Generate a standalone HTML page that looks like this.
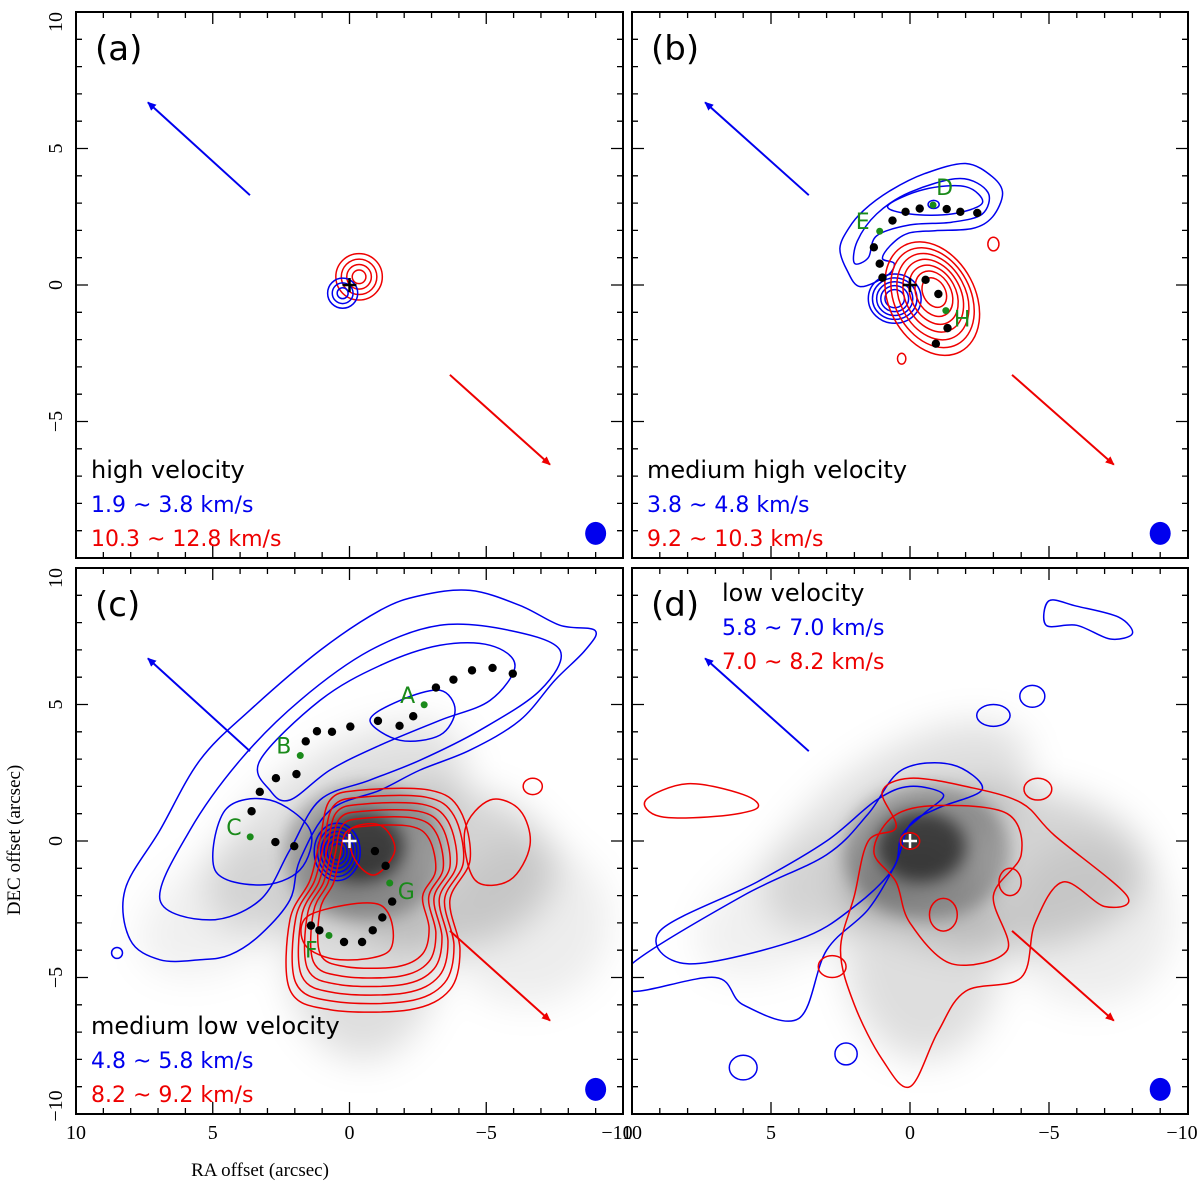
<!DOCTYPE html>
<html><head><meta charset="utf-8">
<style>
html,body{margin:0;padding:0;background:#fff;}
svg{display:block;font-family:"DejaVu Sans","Liberation Sans",sans-serif;}
</style></head>
<body>
<svg id="fig" width="1200" height="1193" viewBox="0 0 1200 1193" xmlns="http://www.w3.org/2000/svg">
<defs>
<filter id="blur1" x="-50%" y="-50%" width="200%" height="200%"><feGaussianBlur stdDeviation="18"/></filter>
<filter id="blur2" x="-50%" y="-50%" width="200%" height="200%"><feGaussianBlur stdDeviation="8"/></filter>
<clipPath id="clipA"><rect x="76" y="12" width="547" height="546"/></clipPath>
<clipPath id="clipB"><rect x="632" y="12" width="556" height="546"/></clipPath>
<clipPath id="clipC"><rect x="76" y="568" width="547" height="546"/></clipPath>
<clipPath id="clipD"><rect x="632" y="568" width="556" height="546"/></clipPath>
<marker id="arrB" markerWidth="10" markerHeight="10" refX="8" refY="5" orient="auto" markerUnits="userSpaceOnUse"><path d="M0,1 L9,5 L0,9 Z" fill="#0000ee"/></marker>
<marker id="arrR" markerWidth="10" markerHeight="10" refX="8" refY="5" orient="auto" markerUnits="userSpaceOnUse"><path d="M0,1 L9,5 L0,9 Z" fill="#ee0000"/></marker>
</defs>
<text x="260" y="1176" text-anchor="middle" font-family="Liberation Serif, serif" font-size="19">RA offset (arcsec)</text>
<text transform="translate(20,840) rotate(-90)" text-anchor="middle" font-family="Liberation Serif, serif" font-size="19">DEC offset (arcsec)</text>
</svg>
<script>
// ---------- data (arcsec) ----------
const panelNames=['a','b','c','d'];
const blueArrow=[[3.64,3.29],[7.37,6.69]];
const redArrow=[[-3.67,-3.29],[-7.33,-6.58]];
const knotsB_ra=[-2.42,-1.81,-1.32,-0.35,0.16,0.63,1.30,1.09,0.99,-0.56,-1.02,-1.35,-0.93];
const knotsB_dec=[2.64,2.68,2.78,2.80,2.68,2.36,1.38,0.78,0.27,0.19,-0.33,-1.58,-2.15];
const greenB_lab=['D','E','H'];
const greenB_ra=[-0.83,1.09,-1.29];
const greenB_dec=[2.93,1.97,-0.94];
const knotsC_ra=[-5.97,-5.23,-4.48,-3.80,-3.16,-2.33,-1.83,-1.04,-0.03,0.64,1.19,1.60,1.94,2.69,3.28,3.58,2.71,2.02,-0.93,-1.32,-1.56,-1.20,-0.85,-0.46,0.20,1.10,1.41];
const knotsC_dec=[6.13,6.34,6.25,5.91,5.62,4.57,4.22,4.40,4.19,4.00,4.02,3.65,2.45,2.30,1.80,1.09,-0.04,-0.19,-0.37,-0.91,-2.22,-2.80,-3.27,-3.70,-3.70,-3.27,-3.10];
const greenC_lab=['A','B','C','G','F'];
const greenC_ra=[-2.73,1.80,3.63,-1.47,0.75];
const greenC_dec=[4.99,3.13,0.15,-1.54,-3.46];

const cBlueOuter=[[8.02,-3.62],[8.21,-1.79],[6.93,0.40],[5.47,2.96],[3.64,4.79],[1.08,6.98],[-1.12,8.45],[-2.58,8.99],[-4.41,9.18],[-6.23,8.63],[-7.70,7.90],[-8.98,7.71],[-8.61,6.98],[-7.51,5.89],[-6.23,4.42],[-4.41,3.33],[-2.58,2.60],[-1.12,1.86],[0.71,1.13],[1.81,-0.69],[2.18,-2.16],[3.27,-3.44],[4.37,-4.17],[5.47,-4.35],[6.93,-4.35]];
const cBlue2=[[6.93,-2.16],[5.83,0.40],[4.0,2.96],[1.81,5.15],[-0.75,6.98],[-3.31,7.90],[-5.87,7.71],[-7.70,6.98],[-6.97,5.52],[-4.77,4.06],[-2.58,2.96],[-0.75,2.23],[1.08,1.50],[2.18,-0.33],[3.27,-2.16],[5.1,-2.89]];
const cBlue3=[[3.27,2.96],[1.08,5.15],[-1.12,6.43],[-3.31,7.17],[-5.14,7.17],[-6.05,6.43],[-5.14,5.15],[-3.31,4.42],[-1.12,3.51],[0.71,2.60],[2.18,1.50],[2.91,1.86]];
const cBlue3c=[[4.92,-1.06],[4.55,1.13],[2.91,1.50],[1.44,0.40],[1.81,-1.06],[3.27,-1.61]];
const cBlue4=[[-0.75,4.42],[-1.85,5.15],[-3.31,5.52],[-3.86,4.79],[-3.31,3.88],[-1.85,3.69]];
const cRedOuter=[[0.71,1.50],[-0.38,1.86],[-2.94,1.86],[-4.04,1.13],[-4.41,-0.69],[-3.67,-2.16],[-4.04,-3.99],[-3.67,-5.45],[-2.21,-6.18],[0.71,-6.18],[2.18,-5.45],[2.18,-2.89],[1.44,-1.43],[1.08,0.04]];
const cRedCore=[[-0.02,0.40],[-1.12,0.58],[-1.66,-0.33],[-0.93,-1.24],[-0.2,-0.69]];
const cRedF=[[1.44,-2.70],[-1.12,-2.34],[-1.48,-3.99],[0.35,-4.35],[1.63,-3.80]];
const cRedEast=[[-4.22,0.40],[-5.14,1.50],[-6.23,1.13],[-6.6,-0.15],[-5.87,-1.43],[-4.59,-1.43]];
const bBlueOuter=[[2.52,1.34],[2.21,2.07],[1.66,2.74],[0.69,3.47],[-0.53,4.08],[-2.0,4.45],[-2.97,3.96],[-3.33,3.35],[-2.97,2.50],[-2.24,2.07],[-0.90,1.99],[0.08,1.89],[0.69,1.46],[0.99,0.97],[0.57,0.79],[0.81,0.36],[1.79,-0.06],[2.27,0.55]];
const bBlue2=[[1.9,1.6],[1.2,2.6],[0,3.4],[-1.8,3.9],[-2.8,3.4],[-2.6,2.6],[-1.5,2.3],[0,2.2],[1.2,1.8],[1.5,1.0],[2.0,0.8]];
const bBlue3=[[0.8,2.9],[-0.5,3.5],[-2.0,3.6],[-2.6,3.0],[-1.5,2.6],[0,2.6]];
const dBlueOuter=[[10,-4.5],[6,-2.0],[3,-0.5],[1.5,1.0],[0.3,2.6],[-1.5,2.8],[-2.6,1.9],[-1.0,1.2],[0,0.6],[0.5,-0.8],[1.5,-2.5],[3,-4],[4,-6.5],[6,-6.0],[7,-5],[10,-5.5]];
const dBlue2=[[9,-3.3],[5.5,-1.5],[3,0],[1.2,1.5],[0,2.0],[-1.2,1.7],[-0.5,1.0],[0.3,0.2],[0.6,-1.0],[2,-2.4],[4,-3.6],[8,-4.5]];
const dBlueIsland=[[-5.0,8.8],[-6.0,8.6],[-7.5,8.2],[-8.0,7.6],[-7.2,7.4],[-6.0,7.9],[-4.9,7.9]];
const dRedOuter=[[0.5,0.5],[1,1.8],[0,2.3],[-2,2.0],[-4,1.4],[-5.2,0.2],[-7.8,-2.0],[-7.0,-2.4],[-5.5,-1.5],[-4.5,-3.0],[-4.0,-5.0],[-2,-5.5],[-1.0,-7.0],[0,-9.0],[1,-8],[2,-6],[2.5,-4.0],[2.0,-2.0],[1.5,0]];
const dRedInner=[[0.6,0.9],[-1,1.3],[-3.5,1.0],[-4,-0.5],[-3,-2],[-3.5,-4],[-1.5,-4.5],[0,-3],[0.5,-1.5],[1.3,-0.4]];
const dRedIsland=[[9.5,1.5],[8,2.1],[6,1.7],[5.5,1.2],[7,0.9],[9,0.9]];

const tickLabelsX=['10','5','0','\u22125','\u221210'];
const tickValsX=[10,5,0,-5,-10];
const titles=['(a)','(b)','(c)','(d)'];
const velTitle=['high velocity','medium high velocity','medium low velocity','low velocity'];
const velBlue=['1.9 ~ 3.8 km/s','3.8 ~ 4.8 km/s','4.8 ~ 5.8 km/s','5.8 ~ 7.0 km/s'];
const velRed=['10.3 ~ 12.8 km/s','9.2 ~ 10.3 km/s','8.2 ~ 9.2 km/s','7.0 ~ 8.2 km/s'];

const svg=document.getElementById('fig');
const NS='http://www.w3.org/2000/svg';
const geom=[{x0:76,y0:12,w:547,h:546},{x0:632,y0:12,w:556,h:546},{x0:76,y0:568,w:547,h:546},{x0:632,y0:568,w:556,h:546}];
const BLUE='#0000ee',RED='#ee0000',GREEN='#1a8a1a';
function mk(tag,attrs,parent){const e=document.createElementNS(NS,tag);for(const k in attrs)e.setAttribute(k,attrs[k]);(parent||svg).appendChild(e);return e;}
function smooth(pts){const n=pts.length;let d='M'+pts[0][0].toFixed(1)+','+pts[0][1].toFixed(1);
 for(let i=0;i<n;i++){const p0=pts[(i-1+n)%n],p1=pts[i],p2=pts[(i+1)%n],p3=pts[(i+2)%n];
  const c1=[p1[0]+(p2[0]-p0[0])/6,p1[1]+(p2[1]-p0[1])/6],c2=[p2[0]-(p3[0]-p1[0])/6,p2[1]-(p3[1]-p1[1])/6];
  d+=' C'+c1[0].toFixed(1)+','+c1[1].toFixed(1)+' '+c2[0].toFixed(1)+','+c2[1].toFixed(1)+' '+p2[0].toFixed(1)+','+p2[1].toFixed(1);}
 return d+'Z';}

geom.forEach((g,pi)=>{
 const X=ra=>g.x0+(10-ra)/20*g.w, Y=dec=>g.y0+(10-dec)/20*g.h;
 const sx=g.w/20, sy=g.h/20;
 const grp=mk('g',{'clip-path':'url(#clip'+'ABCD'[pi]+')'});
 
 
 function poly(arr,color,name,scale,cen){
  const c=cen||[0,0],s=scale||1;
  const pts=arr.map(p=>[X(c[0]+(p[0]-c[0])*s),Y(c[1]+(p[1]-c[1])*s)]);
  const e=mk('path',{d:smooth(pts),fill:'none',stroke:color,'stroke-width':1.5},grp);
  
  
 }
 function ell(ra,dec,rx,ry,color,name,rot){
  const e=mk('ellipse',{cx:X(ra),cy:Y(dec),rx:rx*sx,ry:ry*sy,fill:'none',stroke:color,'stroke-width':1.5,transform:'rotate('+(rot||0)+' '+X(ra)+' '+Y(dec)+')'},grp);
  
  
 }
 if(pi>=2){
  const gg=mk('g',{filter:'url(#blur1)'},grp);
  
  
  mk('ellipse',{cx:X(0.5),cy:Y(0.5),rx:5.5*sx,ry:2.6*sy,fill:'#000','fill-opacity':0.12,transform:'rotate(-35 '+X(0.5)+' '+Y(0.5)+')'},gg);
  mk('ellipse',{cx:X(-3),cy:Y(-1),rx:(pi===3?5.5:4.5)*sx,ry:3*sy,fill:'#000','fill-opacity':0.17},gg);
  mk('ellipse',{cx:X(-0.5),cy:Y(-4),rx:2.8*sx,ry:4*sy,fill:'#000','fill-opacity':0.13},gg);
  mk('ellipse',{cx:X(4.5),cy:Y(-2.5),rx:3.5*sx,ry:2*sy,fill:'#000','fill-opacity':0.06,transform:'rotate(-30 '+X(4.5)+' '+Y(-2.5)+')'},gg);
  mk('ellipse',{cx:X(-6.5),cy:Y(-3),rx:3*sx,ry:3*sy,fill:'#000','fill-opacity':0.07},gg);
  const core=mk('g',{filter:'url(#blur2)'},grp);
  
  
  mk('ellipse',{cx:X(-0.4),cy:Y(-0.2),rx:1.6*sx,ry:1.3*sy,fill:'#000','fill-opacity':0.55},core);
  mk('ellipse',{cx:X(-0.6),cy:Y(-0.4),rx:3*sx,ry:2.5*sy,fill:'#000','fill-opacity':0.25},core);
 }
 if(pi===0){
  [0.25,0.45,0.65,0.85].forEach((r,i)=>ell(-0.35,0.3,r,r,RED,'red-contour-'+i));
  [0.2,0.38,0.55].forEach((r,i)=>ell(0.25,-0.3,r,r,BLUE,'blue-contour-'+i));
 }
 if(pi===1){
  poly(bBlueOuter,BLUE,'blue-contour-outer');
  poly(bBlue2,BLUE,'blue-contour-2');
  poly(bBlue3,BLUE,'blue-contour-3');
  ell(-0.85,2.95,0.2,0.15,BLUE,'blue-contour-peak');
  [0.35,0.5,0.65,0.8,0.95].forEach((r,i)=>ell(0.55,-0.5,r,r*0.95,BLUE,'blue-core-contour-'+i));
  [1.0,0.88,0.76,0.64,0.52,0.4,0.26].forEach((s,i)=>ell(-0.8-0.1*(1-s),-0.5+0.3*(1-s),1.55*s,2.2*s,RED,'red-contour-'+i,-28));
  ell(-3.0,1.5,0.2,0.25,RED,'red-island-1');
  ell(0.3,-2.7,0.15,0.2,RED,'red-island-2');
 }
 if(pi===2){
  poly(cBlueOuter,BLUE,'blue-contour-outer');
  poly(cBlue2,BLUE,'blue-contour-2');
  poly(cBlue3,BLUE,'blue-contour-3');
  poly(cBlue3c,BLUE,'blue-contour-3c');
  poly(cBlue4,BLUE,'blue-contour-4');
  [0.3,0.45,0.6,0.75,0.9,1.05].forEach((r,i)=>ell(0.45,-0.4,r*0.8,r,BLUE,'blue-core-contour-'+i));
  [1.0,0.93,0.86,0.79,0.72,0.64].forEach((s,i)=>poly(cRedOuter,RED,'red-contour-'+i,s,[-0.9,-1.8]));
  poly(cRedCore,RED,'red-contour-core');
  poly(cRedF,RED,'red-contour-f');
  poly(cRedEast,RED,'red-contour-east');
  ell(-6.7,2.0,0.35,0.3,RED,'red-island');
  ell(8.5,-4.1,0.2,0.2,BLUE,'blue-island');
 }
 if(pi===3){
  poly(dBlueOuter,BLUE,'blue-contour-outer');
  poly(dBlue2,BLUE,'blue-contour-2');
  poly(dBlueIsland,BLUE,'blue-island');
  ell(-4.4,5.3,0.45,0.4,BLUE,'blue-island-2');
  ell(-3.0,4.6,0.6,0.4,BLUE,'blue-island-3');
  ell(6.0,-8.3,0.5,0.45,BLUE,'blue-island-4');
  ell(2.3,-7.8,0.4,0.4,BLUE,'blue-island-5');
  poly(dRedOuter,RED,'red-contour-outer');
  poly(dRedInner,RED,'red-contour-inner');
  poly(dRedIsland,RED,'red-island');
  ell(-1.2,-2.7,0.5,0.6,RED,'red-island-2');
  ell(-3.6,-1.5,0.4,0.5,RED,'red-island-3');
  ell(-4.6,1.9,0.5,0.4,RED,'red-island-4');
  ell(0,0,0.35,0.3,RED,'red-core');
  ell(2.8,-4.6,0.5,0.4,RED,'red-island-5');
 }
 const ab=mk('line',{x1:X(blueArrow[0][0]),y1:Y(blueArrow[0][1]),x2:X(blueArrow[1][0]),y2:Y(blueArrow[1][1]),stroke:BLUE,'stroke-width':2,'marker-end':'url(#arrB)'});
 
 
 const ar=mk('line',{x1:X(redArrow[0][0]),y1:Y(redArrow[0][1]),x2:X(redArrow[1][0]),y2:Y(redArrow[1][1]),stroke:RED,'stroke-width':2,'marker-end':'url(#arrR)'});
 
 
 if(pi===1||pi===2){
  const kr=pi===1?knotsB_ra:knotsC_ra, kd=pi===1?knotsB_dec:knotsC_dec;
  kr.forEach((r,i)=>{const c=mk('circle',{cx:X(r),cy:Y(kd[i]),r:4.2,fill:'#000'});
   
   });
  const gl=pi===1?greenB_lab:greenC_lab, gr=pi===1?greenB_ra:greenC_ra, gd=pi===1?greenB_dec:greenC_dec;
  gl.forEach((l,i)=>{const c=mk('circle',{cx:X(gr[i]),cy:Y(gd[i]),r:3.5,fill:GREEN});
   
   
   const right=(l==='G'||l==='H'||l==='D');
   const t=mk('text',{x:X(gr[i])+(l==='D'?3:right?8:-24),y:Y(gd[i])+(l==='D'?-10:l==='F'?22:right?16:-2),fill:GREEN,'font-size':22});
   t.textContent=l;
   
   });
 }
 const cr=mk('path',{d:'M'+(X(0)-7)+','+Y(0)+'h14M'+X(0)+','+(Y(0)-7)+'v14',stroke:pi>=2?'#fff':'#000','stroke-width':2.5});
 
 
 const bm=mk('ellipse',{cx:X(-9.0),cy:Y(-9.1),rx:10.5,ry:11.5,fill:BLUE});
 
 
 const fr=mk('rect',{x:g.x0,y:g.y0,width:g.w,height:g.h,fill:'none',stroke:'#000','stroke-width':2});
 
 
 let td='';
 for(let v=-10;v<=10;v++){const L=v%5===0?12:6;const x=X(v),y=Y(v);
  td+='M'+x+','+g.y0+'v'+L+'M'+x+','+(g.y0+g.h)+'v'+(-L)+'M'+g.x0+','+y+'h'+L+'M'+(g.x0+g.w)+','+y+'h'+(-L);}
 const tk=mk('path',{d:td,stroke:'#000','stroke-width':1.3,fill:'none'});
 
 
 if(pi>=2){tickValsX.forEach((v,i)=>{const t=mk('text',{x:X(v)+(v===-10?-6:0),y:1139,'text-anchor':'middle','font-size':20,'font-family':'Liberation Serif, serif'});
  t.textContent=tickLabelsX[i];
  
  });}
 if(pi%2===0){tickValsX.forEach((v,i)=>{if(v===-10&&pi===0)return;
  const yy=Y(v)+(v===10?10:v===-10?-8:0);
  const t=mk('text',{x:0,y:0,'text-anchor':'middle','font-size':20,'font-family':'Liberation Serif, serif',transform:'translate(62,'+yy+') rotate(-90)'});
  t.textContent=tickLabelsX[i];
  
  });}
 const ttl=mk('text',{x:g.x0+19,y:g.y0+48,'font-size':34});
 ttl.textContent=titles[pi];
 
 
 const tx=pi===3?g.x0+90:g.x0+15, ty=pi===3?g.y0+33:g.y0+466;
 [[velTitle[pi],'#000'],[velBlue[pi],BLUE],[velRed[pi],RED]].forEach((a,i)=>{
  const t=mk('text',{x:tx,y:ty+i*34,fill:a[1],'font-size':i===0?24:22});
  t.textContent=a[0];
  
  
 });
});
</script>
</body></html>
